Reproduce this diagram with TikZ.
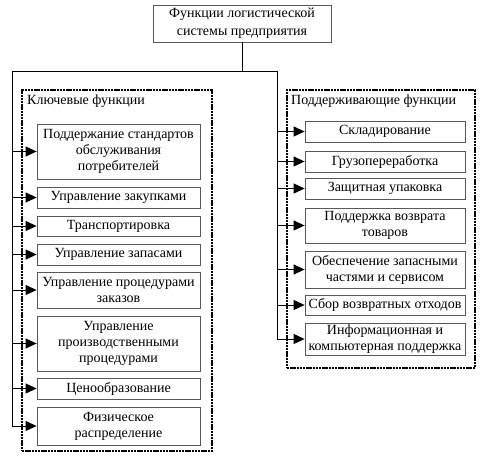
\documentclass[tikz,border=0pt]{standalone}
\usepackage{fontspec}
\setmainfont{Liberation Serif}
\usetikzlibrary{arrows.meta}
\begin{document}
\begin{tikzpicture}[x=1pt,y=-1pt,
  txt/.style={font=\fontsize{14}{16}\selectfont, text=black},
  fbox/.style={txt, draw=black!65, line width=0.8pt, align=center, inner sep=0pt, fill=white},
  lbox/.style={fbox, minimum width=163pt},
  rbox/.style={fbox, minimum width=160pt},
  dbox/.style={draw=black, line width=2.6pt, dash pattern=on 2.4pt off 0.8pt, inner sep=0pt, minimum width=#1},
  conn/.style={draw=black, line width=0.9pt},
  arr/.style={conn, -{Triangle[length=11pt,width=10pt]}}
]
\useasboundingbox[fill=white] (0,0) rectangle (484,464);

% containers
\node[dbox=190pt, minimum height=361pt] (kf) at (117,270.5) {};
\node[dbox=188pt, minimum height=278pt] (pf) at (381,229) {};
\node[txt, anchor=west, inner sep=0pt] (kl) at (27,101) {Ключевые функции};
\node[txt, anchor=west, inner sep=0pt] (pl) at (291,101) {Поддерживающие функции};

% top
\node[fbox, minimum width=178pt, minimum height=37pt, font=\fontsize{14}{18}\selectfont] (top) at (242,23.5) {Функции логистической\\системы предприятия};

% left boxes
\node[lbox, minimum height=55pt] (k1) at (118.5,151.5) {Поддержание стандартов\\обслуживания\\потребителей};
\node[lbox, minimum height=21pt] (k2) at (118.5,197.5) {Управление закупками};
\node[lbox, minimum height=20pt] (k3) at (118.5,226) {Транспортировка};
\node[lbox, minimum height=21pt] (k4) at (118.5,254.5) {Управление запасами};
\node[lbox, minimum height=36pt] (k5) at (118.5,290) {Управление процедурами\\заказов};
\node[lbox, minimum height=55pt] (k6) at (118.5,343.5) {Управление\\производственными\\процедурами};
\node[lbox, minimum height=21pt] (k7) at (118.5,388.5) {Ценообразование};
\node[lbox, minimum height=38pt] (k8) at (118.5,426) {Физическое\\распределение};

% right boxes
\node[rbox, minimum height=21pt] (r1) at (385,131.5) {Складирование};
\node[rbox, minimum height=21pt] (r2) at (385,161.5) {Грузопереработка};
\node[rbox, minimum height=21pt] (r3) at (385,188.5) {Защитная упаковка};
\node[rbox, minimum height=35pt] (r4) at (385,225.5) {Поддержка возврата\\товаров};
\node[rbox, minimum height=37pt] (r5) at (385,269.5) {Обеспечение запасными\\частями и сервисом};
\node[rbox, minimum height=20pt] (r6) at (385,305) {Сбор возвратных отходов};
\node[rbox, minimum height=32pt] (r7) at (385,339) {Информационная и\\компьютерная поддержка};

% connectors
\coordinate (jt) at (242,71);
\coordinate (jl) at (12,71);
\coordinate (jr) at (277,71);
\draw[conn] (top.south) -- (jt);
\draw[conn] (jl) -- (jr);
\draw[conn] (jl) -- (jl |- k8.west);
\draw[conn] (jr) -- (jr |- r7.west);
\foreach \n in {k1,k2,k3,k4,k5,k6,k7,k8}{
  \draw[arr] (jl |- \n.west) -- (\n.west);
}
\foreach \n in {r1,r2,r3,r4,r5,r6,r7}{
  \draw[arr] (jr |- \n.west) -- (\n.west);
}
\end{tikzpicture}
\end{document}
